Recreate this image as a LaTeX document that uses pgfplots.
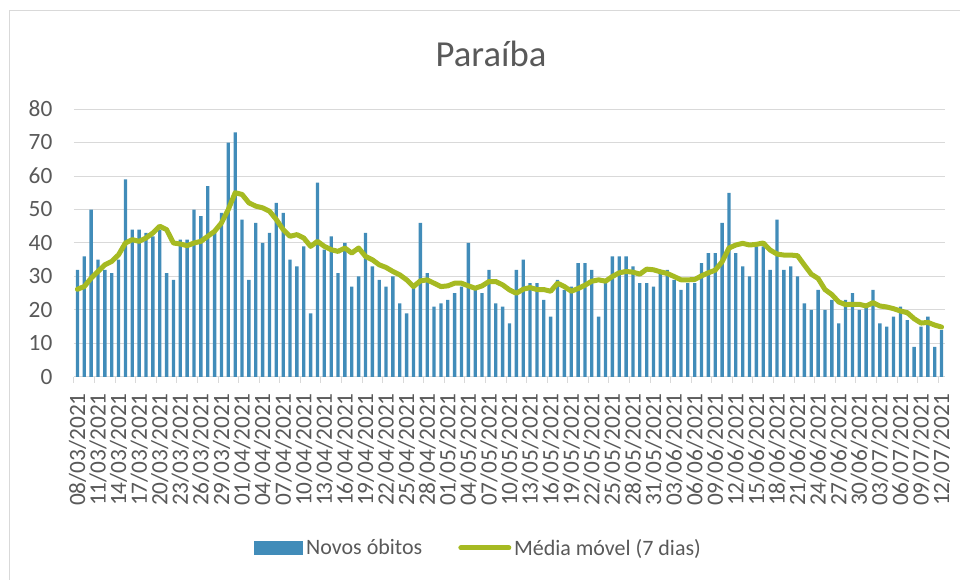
\documentclass[border=0pt]{standalone}
\usepackage{pgfplots}
\pgfplotsset{compat=1.18}
\usepackage{pgfplotstable}
\usepackage{fontspec}
\setmainfont{Carlito}
\definecolor{barblue}{RGB}{65,140,185}
\definecolor{magreen}{RGB}{166,186,34}
\definecolor{gridgray}{RGB}{217,217,217}
\definecolor{txtgray}{RGB}{89,89,89}

\pgfplotstableread{
x y
1 32
2 36
3 50
4 35
5 32
6 31
7 35
8 59
9 44
10 44
11 43
12 42
13 44
14 31
15 29
16 41
17 41
18 50
19 48
20 57
21 43
22 49
23 70
24 73
25 47
26 29
27 46
28 40
29 43
30 52
31 49
32 35
33 33
34 39
35 19
36 58
37 38
38 42
39 31
40 40
41 27
42 30
43 43
44 33
45 29
46 27
47 30
48 22
49 19
50 27
51 46
52 31
53 21
54 22
55 23
56 25
57 27
58 40
59 26
60 25
61 32
62 22
63 21
64 16
65 32
66 35
67 28
68 28
69 23
70 18
71 29
72 26
73 27
74 34
75 34
76 32
77 18
78 28
79 36
80 36
81 36
82 33
83 28
84 28
85 27
86 31
87 32
88 29
89 26
90 28
91 28
92 34
93 37
94 37
95 46
96 55
97 37
98 33
99 30
100 39
101 39
102 32
103 47
104 32
105 33
106 30
107 22
108 20
109 26
110 20
111 23
112 16
113 23
114 25
115 20
116 21
117 26
118 16
119 15
120 18
121 21
122 17
123 9
124 15
125 18
126 9
127 14
}\obitos

\pgfplotstableread{
x y
1 26.2
2 27
3 29.5
4 31.5
5 33.5
6 34.5
7 36.5
8 40
9 41
10 40.5
11 41.5
12 43
13 45
14 44
15 40
16 39.7
17 39.2
18 40
19 40.5
20 42
21 43.5
22 46
23 50
24 55
25 54.5
26 52
27 51
28 50.5
29 49.5
30 47
31 44
32 42
33 42.5
34 41.5
35 39
36 40.5
37 39
38 38
39 37.5
40 38.5
41 37
42 38.5
43 36
44 35
45 33.5
46 32.7
47 31.5
48 30.5
49 29
50 27
51 28.7
52 29
53 28
54 27
55 27.2
56 28
57 28
58 27.2
59 26.5
60 27.2
61 28.5
62 28.5
63 27.5
64 26
65 25
66 26.2
67 26.7
68 26.1
69 26.1
70 25.6
71 28
72 27
73 25.6
74 26.4
75 27.4
76 28.6
77 29
78 28.6
79 30
80 31.1
81 31.5
82 31.3
83 30.7
84 32.2
85 32
86 31.4
87 30.9
88 30
89 29
90 29
91 29.1
92 30.2
93 31.1
94 31.9
95 34.4
96 38.5
97 39.4
98 39.9
99 39.4
100 39.6
101 40
102 37.9
103 36.7
104 36.4
105 36.4
106 36.2
107 33.4
108 30.7
109 29.4
110 26.1
111 24.6
112 22.4
113 21.6
114 21.7
115 21.7
116 21.2
117 22.2
118 21.2
119 20.9
120 20.4
121 19.7
122 19.2
123 17.4
124 16.1
125 16.3
126 15.5
127 14.9
}\media

\begin{document}
\begin{tikzpicture}[x=0.75pt,y=0.75pt]
\useasboundingbox (0,0) rectangle (960,580);
\draw[gridgray, line width=1.1pt] (9.5,0) -- (9.5,569.5) -- (960,569.5);
\node[txtgray, anchor=base, font=\fontsize{27.5}{33}\selectfont] at (491,513.3) {Paraíba};
\begin{axis}[
  at={(55.5pt,152.25pt)}, anchor=south west,
  scale only axis, width=653.25pt, height=201pt,
  xmin=0.5, xmax=127.5, ymin=0, ymax=80,
  ytick={0,10,...,80},
  xtick={1,4,...,127},
  xticklabels={08/03/2021,11/03/2021,14/03/2021,17/03/2021,20/03/2021,23/03/2021,26/03/2021,29/03/2021,01/04/2021,04/04/2021,07/04/2021,10/04/2021,13/04/2021,16/04/2021,19/04/2021,22/04/2021,25/04/2021,28/04/2021,01/05/2021,04/05/2021,07/05/2021,10/05/2021,13/05/2021,16/05/2021,19/05/2021,22/05/2021,25/05/2021,28/05/2021,31/05/2021,03/06/2021,06/06/2021,09/06/2021,12/06/2021,15/06/2021,18/06/2021,21/06/2021,24/06/2021,27/06/2021,30/06/2021,03/07/2021,06/07/2021,09/07/2021,12/07/2021},
  xticklabel style={rotate=90, anchor=east, inner sep=0pt, xshift=-12pt},
  yticklabel style={anchor=east, inner sep=0pt, xshift=-16pt},
  /pgf/number format/assume math mode=true,
  ticklabel style={font=\fontsize{17.5}{20}\selectfont, text=txtgray},
  major tick length=0pt,
  ymajorgrids, grid style={gridgray, line width=0.75pt},
  axis x line*=bottom, axis y line*=left,
  x axis line style={draw=gridgray, line width=0.75pt, -},
  y axis line style={draw=none},
  extra x ticks={0.5,3.5,...,126.5},
  extra x tick labels={},
  extra x tick style={grid=none, major tick length=4.5pt, tick align=outside, tick style={draw=gridgray, line width=0.75pt}},
  legend columns=2,
  legend style={at={(0.465,-0.638)}, anchor=center, draw=none, fill=none,
    font=\fontsize{16.5}{20}\selectfont, text=txtgray,
    /tikz/every even column/.append style={column sep=25pt}},
  legend cell align=left,
]
\addplot[ybar, bar width=2.5pt, bar shift=0pt, fill=barblue, draw=none,
  legend image code/.code={\fill[barblue] (0pt,-5.25pt) rectangle (36.75pt,5.25pt);}]
  table[x=x,y=y] {\obitos};
\addlegendentry{Novos óbitos}
\addplot[magreen, line width=3.75pt, line join=round, line cap=round, mark=none,
  legend image code/.code={\draw[magreen, line width=3.75pt, line cap=round] (2pt,0pt) -- (38pt,0pt);}]
  table[x=x,y=y] {\media};
\addlegendentry{Média móvel (7 dias)}
\end{axis}
\end{tikzpicture}
\end{document}
